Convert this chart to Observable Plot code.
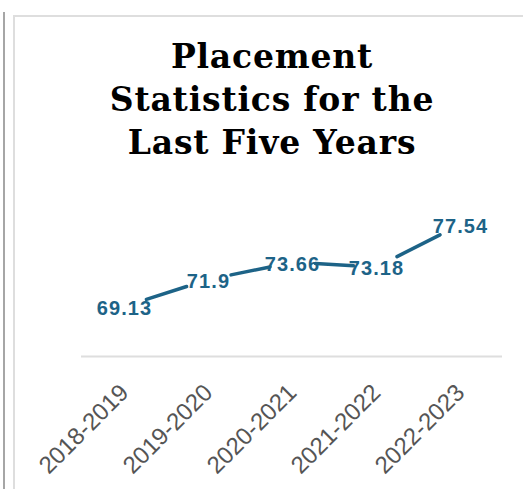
<!DOCTYPE html>
<html>
<head>
<meta charset="utf-8">
<script src="https://cdn.jsdelivr.net/npm/d3@7"></script>
<script src="https://cdn.jsdelivr.net/npm/@observablehq/plot@0.6"></script>
<style>
  html, body { margin: 0; padding: 0; background: #fff; width: 523px; height: 489px; overflow: hidden; }
  #outer { position: absolute; left: 3px; top: 12px; width: 2px; height: 477px; background: #a6a6a6; }
  #box { position: absolute; left: 13px; top: 15px; width: 600px; height: 600px; border-left: 2px solid #dedede; border-top: 2px solid #dedede; }
  #title { position: absolute; left: 13px; top: 35px; width: 518px; text-align: center;
    font-family: "DejaVu Serif", serif; font-weight: bold; font-size: 33px; line-height: 43px; letter-spacing: 0.8px; color: #000; }
  #chart { position: absolute; left: 0; top: 180px; }
  #chart svg { overflow: visible; }
</style>
</head>
<body>
<div id="outer"></div>
<div id="box"></div>
<div id="title">Placement<br>Statistics for the<br>Last Five Years</div>
<div id="chart"></div>
<script>
const years = ["2018-2019", "2019-2020", "2020-2021", "2021-2022", "2022-2023"];
const placement = [69.13, 71.9, 73.66, 73.18, 77.54];
const valueLabels = ["69.13", "71.9", "73.66", "73.18", "77.54"];

const points = years.map((y, i) => ({year: y, value: placement[i], label: valueLabels[i]}));
const segments = points.slice(1).map((p, i) => ({x1: points[i].year, y1: points[i].value, x2: p.year, y2: p.value}));

const color = "#1d6387";

const chart = Plot.plot({
  width: 523,
  height: 309,
  marginLeft: 81,
  marginRight: 21,
  marginTop: 20,
  marginBottom: 133,
  style: {background: "transparent", overflow: "visible"},
  x: {type: "point", domain: years, padding: 0.5},
  y: {domain: [64, 80], axis: null},
  marks: [
    Plot.ruleY([64], {stroke: "#dedede", strokeWidth: 2}),
    Plot.axisX({tickRotate: -45, tickSize: 0, tickPadding: 32, fontSize: 24, color: "#555", fontFamily: "Liberation Sans, Arial, sans-serif", label: null}),
    Plot.arrow(segments, {x1: "x1", y1: "y1", x2: "x2", y2: "y2", stroke: color, strokeWidth: 3.5, headLength: 0, bend: 0, insetStart: 23, insetEnd: 23}),
    Plot.text(points, {x: "year", y: "value", text: "label", fill: color, fontSize: 20, fontWeight: "bold", fontFamily: "Liberation Sans, Arial, sans-serif", dy: 2})
  ]
});
chart.querySelectorAll("text").forEach(t => {
  if (t.closest("g[aria-label='text']")) t.style.letterSpacing = "1.1px";
});
document.getElementById("chart").appendChild(chart);
</script>
</body>
</html>
